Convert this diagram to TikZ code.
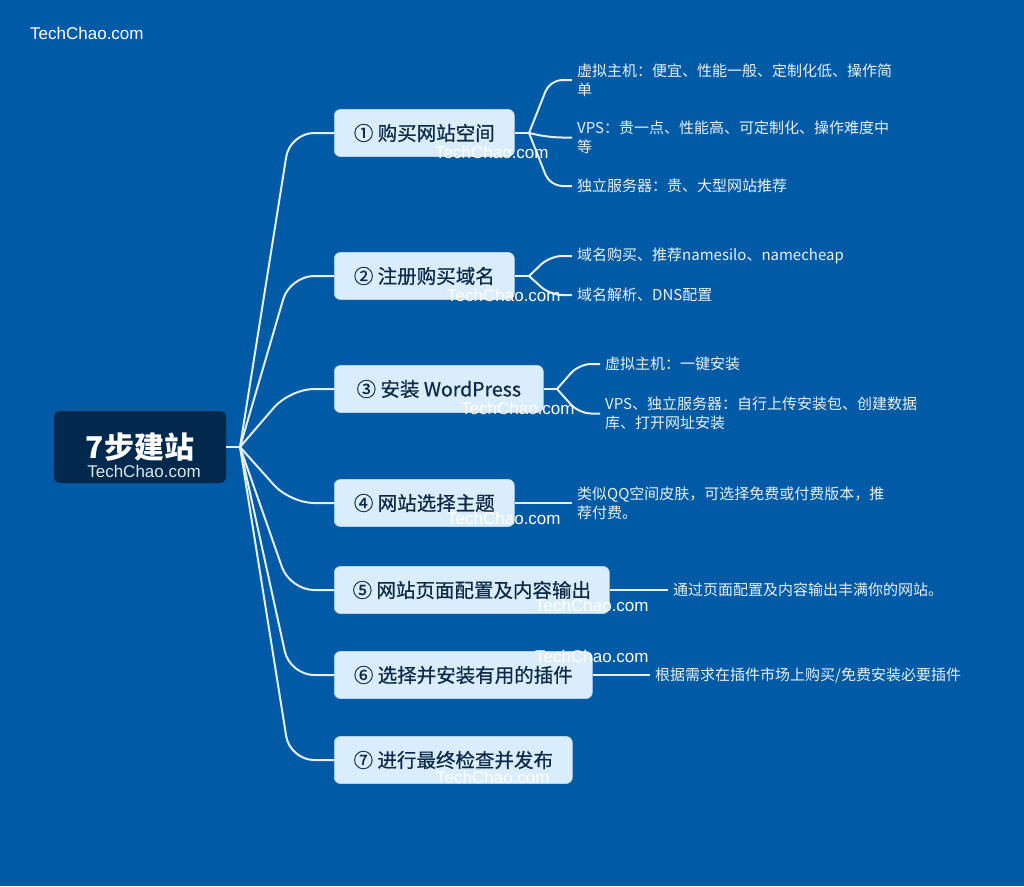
\documentclass[tikz,border=0pt]{standalone}
\usepackage{fontspec}
\setmainfont{Noto Sans CJK SC}
\newfontfamily\topicfont[FakeBold=0.7]{Noto Sans CJK SC}
\newfontfamily\wmfont{Liberation Sans}
\definecolor{bg}{HTML}{005AA5}
\definecolor{rootfill}{HTML}{00294D}
\definecolor{topicfill}{HTML}{DAEDFC}
\definecolor{topicdraw}{HTML}{B5D4EE}
\definecolor{topictext}{HTML}{0D2A48}
\definecolor{linec}{HTML}{E4EFF9}
\definecolor{childtext}{HTML}{E8F1FA}
\definecolor{rootwm}{HTML}{DCE6EF}
\begin{document}
\begin{tikzpicture}[x=1pt,y=-1pt,
 conn/.style={draw=linec, line width=2pt},
 topic/.style={draw=topicdraw, line width=0.6pt, fill=topicfill, rounded corners=6pt, minimum height=47pt, inner xsep=18pt, anchor=west, text=topictext, font=\topicfont\fontsize{19.5}{23}\selectfont},
 child/.style={anchor=west, inner xsep=5pt, inner ysep=0pt, align=left, text=childtext, font=\fontsize{15}{19}\selectfont},
 wm/.style={anchor=west, inner sep=0pt, text=white, font=\wmfont\fontsize{17}{20}\selectfont},
]
\fill[bg] (0,0) rectangle (1024,886);
\useasboundingbox (0,0) rectangle (1024,886);

% root
\node[fill=rootfill, rounded corners=6pt, minimum width=172pt, minimum height=72pt, text=white, font=\bfseries\fontsize{30}{34}\selectfont] (root) at (140,447) {7步建站};

% topics
\node[topic, minimum width=180pt] (t1) at (334,133) {① 购买网站空间};
\node[topic, minimum width=180pt] (t2) at (334,276) {② 注册购买域名};
\node[topic, minimum width=209pt] (t3) at (334,389) {③ 安装 WordPress};
\node[topic, minimum width=180pt] (t4) at (334,503) {④ 网站选择主题};
\node[topic, minimum width=275pt] (t5) at (334,590) {⑤ 网站页面配置及内容输出};
\node[topic, minimum width=258pt] (t6) at (334,675) {⑥ 选择并安装有用的插件};
\node[topic, minimum width=238pt] (t7) at (334,760) {⑦ 进行最终检查并发布};

% children
\node[child] (c11) at (572,80) {虚拟主机：便宜、性能一般、定制化低、操作简\\单};
\node[child] (c12) at (572,137.5) {VPS：贵一点、性能高、可定制化、操作难度中\\等};
\node[child] (c13) at (572,186) {独立服务器：贵、大型网站推荐};
\node[child] (c21) at (572,256) {域名购买、推荐namesilo、namecheap};
\node[child] (c22) at (572,295) {域名解析、DNS配置};
\node[child] (c31) at (600,364) {虚拟主机：一键安装};
\node[child] (c32) at (600,413.5) {VPS、独立服务器：自行上传安装包、创建数据\\库、打开网址安装};
\node[child] (c41) at (572,503) {类似QQ空间皮肤，可选择免费或付费版本，推\\荐付费。};
\node[child] (c51) at (668,590) {通过页面配置及内容输出丰满你的网站。};
\node[child] (c61) at (650,675) {根据需求在插件市场上购买/免费安装必要插件};

% root connectors
\coordinate (F) at (240,447);
\coordinate (cx) at (290,0);
\draw[conn] (root.east) -- (F);
\foreach \t in {t1,t2,t3,t4,t5,t6,t7}
  \draw[conn, rounded corners=24pt] (F) -- (\t.west -| cx) -- (\t.west);

% topic 1 children
\coordinate (f1) at (529,133);
\coordinate (k1) at (550,0);
\draw[conn] (t1.east) -- (f1);
\foreach \c in {c11,c12,c13}
  \draw[conn, rounded corners=12pt] (f1) -- (\c.west -| k1) -- (\c.west);

% topic 2 children
\coordinate (f2) at (529,276);
\coordinate (k2) at (550,0);
\draw[conn] (t2.east) -- (f2);
\foreach \c in {c21,c22}
  \draw[conn, rounded corners=12pt] (f2) -- (\c.west -| k2) -- (\c.west);

% topic 3 children
\coordinate (f3) at (557,389);
\coordinate (k3) at (579,0);
\draw[conn] (t3.east) -- (f3);
\foreach \c in {c31,c32}
  \draw[conn, rounded corners=12pt] (f3) -- (\c.west -| k3) -- (\c.west);

% single children
\draw[conn] (t4.east) -- (c41.west);
\draw[conn] (t5.east) -- (c51.west);
\draw[conn] (t6.east) -- (c61.west);

% watermarks
\node[wm] (w0) at (30,33) {TechChao.com};
\node[wm, anchor=center, text=rootwm] (wr) at (144,471) {TechChao.com};
\node[wm] (w1) at (435,152) {TechChao.com};
\node[wm] (w2) at (447,295) {TechChao.com};
\node[wm] (w3) at (461,408) {TechChao.com};
\node[wm] (w4) at (447,518) {TechChao.com};
\node[wm] (w5) at (535,605) {TechChao.com};
\node[wm] (w6) at (535,656) {TechChao.com};
\node[wm] (w7) at (436,777) {TechChao.com};
\end{tikzpicture}
\end{document}
